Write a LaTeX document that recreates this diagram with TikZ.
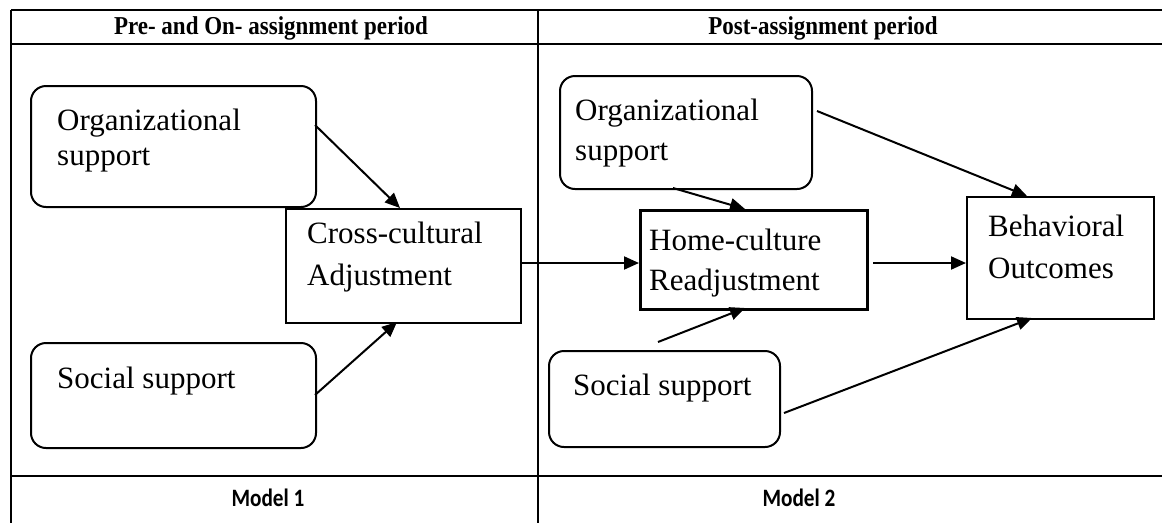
\documentclass[tikz,border=0pt]{standalone}
\usepackage{fontspec}
\setmainfont{Liberation Serif}
\newfontfamily\calibrifont{Carlito}
\usetikzlibrary{arrows.meta}
\tikzset{
  rule/.style={line width=2.4pt},
  rbox/.style={draw, line width=2pt, rounded corners=15pt, anchor=north west, inner sep=0pt},
  sbox/.style={draw, line width=2pt, anchor=north west, inner sep=0pt},
  txt/.style={anchor=north west, inner sep=0pt, align=left, font=\fontsize{31}{40}\selectfont},
  head/.style={inner sep=0pt, font=\bfseries\fontsize{23}{26}\selectfont},
  foot/.style={inner sep=0pt, font=\calibrifont\bfseries\fontsize{25}{28}\selectfont},
  conn/.style={line width=2pt, -{Triangle[length=15pt,width=13pt]}},
}
\begin{document}
\begin{tikzpicture}[x=1pt,y=-1pt]
\useasboundingbox (0,0) rectangle (1162,523);
% table rules
\coordinate (tl) at (11,10);
\coordinate (tr) at (1162,10);
\coordinate (hl) at (11,44);
\coordinate (hr) at (1162,44);
\coordinate (fl) at (11,476);
\coordinate (fr) at (1162,476);
\coordinate (bl) at (11,523);
\coordinate (mt) at (538,10);
\coordinate (mb) at (538,523);
\draw[rule] (tl) -- (tr);
\draw[rule] (hl) -- (hr);
\draw[rule] (fl) -- (fr);
\draw[rule] (tl) -- (bl);
\draw[rule] (mt) -- (mb);
\node[head] (h1) at (271,28) {\scalebox{1}[1.12]{Pre- and On- assignment period}};
\node[head] (h2) at (823,28) {\scalebox{1}[1.12]{Post-assignment period}};
\node[foot] (f1) at (268,498) {\scalebox{0.85}[1]{Model 1}};
\node[foot] (f2) at (799,498) {\scalebox{0.85}[1]{Model 2}};
% boxes
\node[rbox, minimum width=285pt, minimum height=121pt] (lo) at (30,85) {};
\node[rbox, minimum width=285pt, minimum height=105pt] (ls) at (30,342) {};
\node[sbox, minimum width=235pt, minimum height=114pt] (cc) at (285,208) {};
\node[rbox, minimum width=252pt, minimum height=113pt] (ro) at (559,75) {};
\node[sbox, line width=2.6pt, minimum width=227pt, minimum height=99pt] (hc) at (639,209) {};
\node[rbox, minimum width=231pt, minimum height=96pt] (rs) at (548,350) {};
\node[sbox, minimum width=187pt, minimum height=122pt] (bo) at (966,196) {};
% texts
\node[txt, font=\fontsize{31}{35}\selectfont] (lot) at (57,109) {Organizational\\support};
\node[txt] (lst) at (57,367) {Social support};
\node[txt, font=\fontsize{31}{42}\selectfont] (cct) at (307,222) {Cross-cultural\\Adjustment};
\node[txt] (rot) at (575,99) {Organizational\\support};
\node[txt] (hct) at (649,229) {Home-culture\\Readjustment};
\node[txt] (rst) at (573,374) {Social support};
\node[txt, font=\fontsize{31}{42}\selectfont] (bot) at (988,215) {Behavioral\\Outcomes};
% connector ends
\coordinate (a1s) at (315,125);
\coordinate (a1e) at (400,208);
\coordinate (a2s) at (315,395);
\coordinate (a2e) at (397,322);
\coordinate (a3s) at (520,263);
\coordinate (a3e) at (639,263);
\coordinate (a4s) at (673,188);
\coordinate (a4e) at (745,209);
\coordinate (a5s) at (817,111);
\coordinate (a5e) at (1027,196);
\coordinate (a6s) at (873,263);
\coordinate (a6e) at (966,263);
\coordinate (a7s) at (658,342);
\coordinate (a7e) at (745,308);
\coordinate (a8s) at (784,413);
\coordinate (a8e) at (1032,318);
\draw[conn] (a1s) -- (a1e);
\draw[conn] (a2s) -- (a2e);
\draw[conn] (a3s) -- (a3e);
\draw[conn] (a4s) -- (a4e);
\draw[conn] (a5s) -- (a5e);
\draw[conn] (a6s) -- (a6e);
\draw[conn] (a7s) -- (a7e);
\draw[conn] (a8s) -- (a8e);
\end{tikzpicture}
\end{document}
